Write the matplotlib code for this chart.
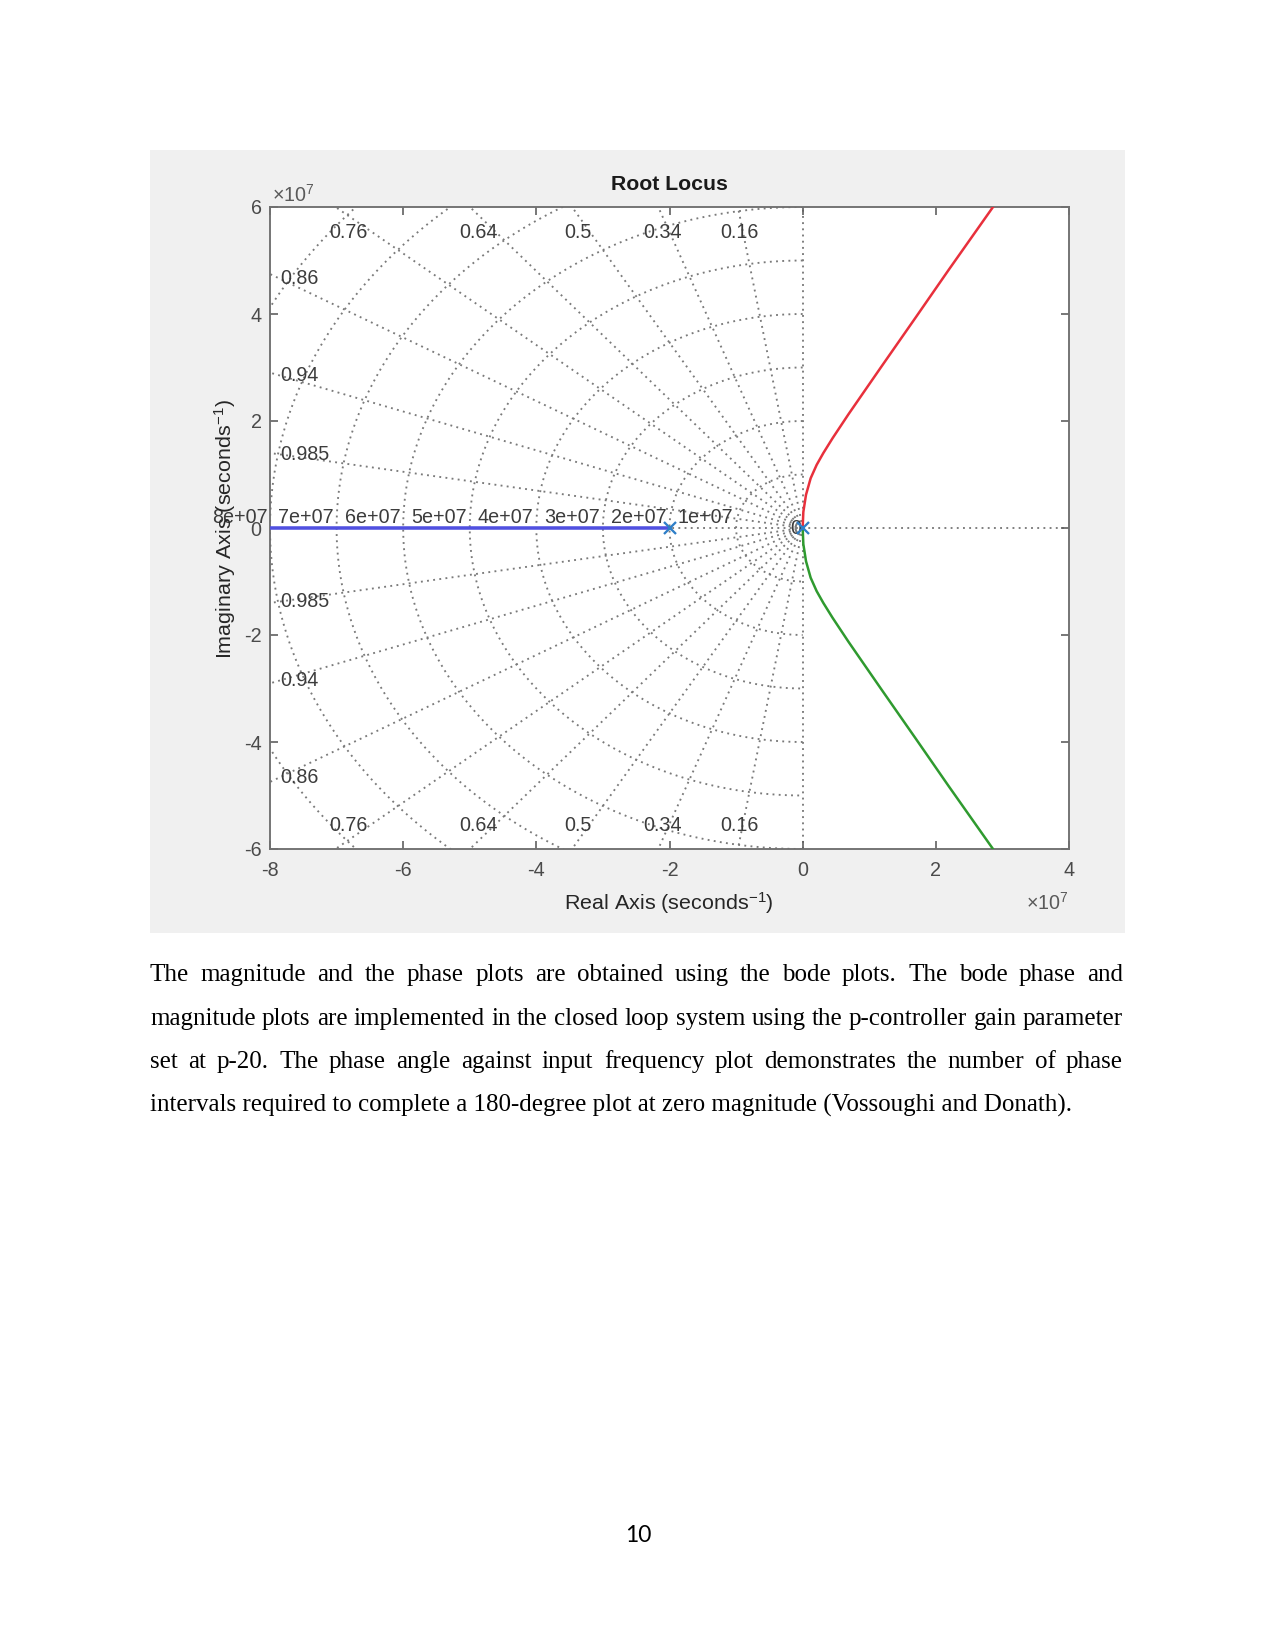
import numpy as np
import matplotlib
matplotlib.use("Agg")
import matplotlib.pyplot as plt
from matplotlib.patches import Rectangle

plt.rcParams['font.family'] = ['Liberation Sans', 'DejaVu Sans']
plt.rcParams['axes.unicode_minus'] = False
plt.rcParams['mathtext.fontset'] = 'custom'
plt.rcParams['mathtext.rm'] = 'Liberation Sans'
plt.rcParams['mathtext.it'] = 'Liberation Sans:italic'

# root locus branches (units of 1e7 s^-1)
blue_re = [-9.0, -2.0]
blue_im = [0.0, 0.0]
red_re = [0.00, 0.01, 0.05, 0.12, 0.21, 0.31, 0.45, 0.69, 1.19, 1.70, 2.19, 2.87]
red_im = [0.00, 0.30, 0.62, 0.93, 1.18, 1.40, 1.68, 2.13, 3.03, 3.94, 4.82, 6.02]
green_re = [0.00, 0.01, 0.05, 0.12, 0.21, 0.31, 0.45, 0.69, 1.19, 1.70, 2.19, 2.87]
green_im = [0.00, -0.30, -0.62, -0.93, -1.18, -1.40, -1.68, -2.13, -3.03, -3.94, -4.82, -6.02]
poles_re = [-2.0, 0.0]
poles_im = [0.0, 0.0]

# s-plane grid
zetas = [0.16, 0.34, 0.5, 0.64, 0.76, 0.86, 0.94, 0.985]
wn_labels = [0, 1, 2, 3, 4, 5, 6, 7, 8]
wn_circles = [1, 2, 3, 4, 5, 6, 7, 8, 9]

xticks = [-8, -6, -4, -2, 0, 2, 4]
yticks = [-6, -4, -2, 0, 2, 4, 6]

paragraph = [
    "The magnitude and the phase plots are obtained using the bode plots. The bode phase and",
    "magnitude plots are implemented in the closed loop system using the p-controller gain parameter",
    "set at p-20. The phase angle against input frequency plot demonstrates the number of phase",
    "intervals required to complete a 180-degree plot at zero magnitude (Vossoughi and Donath).",
]

W, H = 1275, 1650
fig = plt.figure(figsize=(W / 150, H / 150), dpi=150)
fig.patch.set_facecolor('white')

def fx(px):
    return px / W

def fy(py):
    return 1 - py / H

# grey figure panel of the MATLAB screenshot
fig.patches.append(Rectangle((fx(150), fy(933)), 975 / W, 783 / H,
                             transform=fig.transFigure, facecolor='#f0f0f0',
                             edgecolor='none', zorder=-5))

ax = fig.add_axes([fx(270), fy(849), 799 / W, 642 / H])
ax.set_facecolor('white')
ax.set_xlim(-8, 4)
ax.set_ylim(-6, 6)

gkw = dict(color='#7a7a7a', ls=(0, (1, 2.3)), lw=0.9, zorder=1)
# damping rays
R = 14
for z in zetas:
    s = np.sqrt(1 - z * z)
    ax.plot([0, -R * z], [0, R * s], **gkw)
    ax.plot([0, -R * z], [0, -R * s], **gkw)
ax.axvline(0, **gkw)
ax.axhline(0, **gkw)
# natural frequency circles
th = np.linspace(np.pi / 2, 3 * np.pi / 2, 400)
for w in wn_circles:
    ax.plot(w * np.cos(th), w * np.sin(th), **gkw)

# grid labels
lab = dict(fontsize=9.5, color='#3c3c3c', zorder=2)
for z in zetas:
    t = np.sqrt(1 - z * z) / z
    if 6 / t < 8:
        xl = -5.84 / t
        ax.text(xl, 5.53, f"{z:g}", ha='center', va='center', **lab)
        ax.text(xl, -5.57, f"{z:g}", ha='center', va='center', **lab)
    else:
        yl = 7.85 * t
        ax.text(-7.85, yl, f"{z:g}", ha='left', va='center', **lab)
        ax.text(-7.85, -yl, f"{z:g}", ha='left', va='center', **lab)
for w in wn_labels:
    if w == 0:
        ax.text(-0.02, 0.0, "0", ha='right', va='center', **lab)
    else:
        ax.text(-w - 0.04, 0.19, f"{w * 1e7:.0e}", ha='right', va='center',
                clip_on=False, **lab)

# locus
ax.plot(blue_re, blue_im, color='#5050e0', lw=1.7, zorder=3)
ax.plot(red_re, red_im, color='#e8303c', lw=1.2, zorder=3)
ax.plot(green_re, green_im, color='#2f9a2f', lw=1.2, zorder=3)
ax.plot(poles_re, poles_im, 'x', color='#2f7fc8', ms=5.5, mew=1.1, zorder=4)

ax.set_xticks(xticks)
ax.set_yticks(yticks)
ax.tick_params(direction='in', top=True, right=True, length=4, width=0.8,
               color='#606060', labelcolor='#4a4a4a', labelsize=9.5)
ax.tick_params(axis='x', pad=6)
ax.tick_params(axis='y', pad=4)
for sp in ax.spines.values():
    sp.set_color('#707070')
    sp.set_linewidth(0.9)

fig.text(fx(669), fy(190), "Root Locus", ha='center', va='baseline',
         fontsize=10.2, fontweight='bold', color='#1a1a1a')
fig.text(fx(669), fy(910), "Real Axis (seconds$^{-1}$)", ha='center',
         va='baseline', fontsize=10.3, color='#262626')
fig.text(fx(232), fy(529), "Imaginary Axis (seconds$^{-1}$)", ha='center',
         va='baseline', rotation=90, rotation_mode='anchor', fontsize=10.3,
         color='#262626')
fig.text(fx(272), fy(202), r"$\times$10$^{7}$", ha='left', va='baseline',
         fontsize=9.5, color='#5a5a5a')
fig.text(fx(1069), fy(910), r"$\times$10$^{7}$", ha='right', va='baseline',
         fontsize=9.5, color='#5a5a5a')

# body text, justified
serif = dict(family=['Liberation Serif', 'DejaVu Serif'], fontsize=12, color='black')
renderer = fig.canvas.get_renderer()
left, right = 150, 1123
baselines = [981, 1025, 1068, 1112]
for i, line in enumerate(paragraph):
    y = fy(baselines[i])
    if i == len(paragraph) - 1:
        fig.text(fx(left), y, line, ha='left', va='baseline', **serif)
        continue
    words = line.split()
    texts = [fig.text(0, y, wd, ha='left', va='baseline', **serif) for wd in words]
    widths = [t.get_window_extent(renderer).width for t in texts]
    gap = (right - left - sum(widths)) / (len(words) - 1)
    x = left
    for t, wd in zip(texts, widths):
        t.set_x(fx(x))
        x += wd + gap

fig.text(fx(638), fy(1542), "10", ha='center', va='baseline',
         family=['Lato', 'DejaVu Sans'], fontsize=11, color='black')

fig.savefig("out.png", dpi=150)
